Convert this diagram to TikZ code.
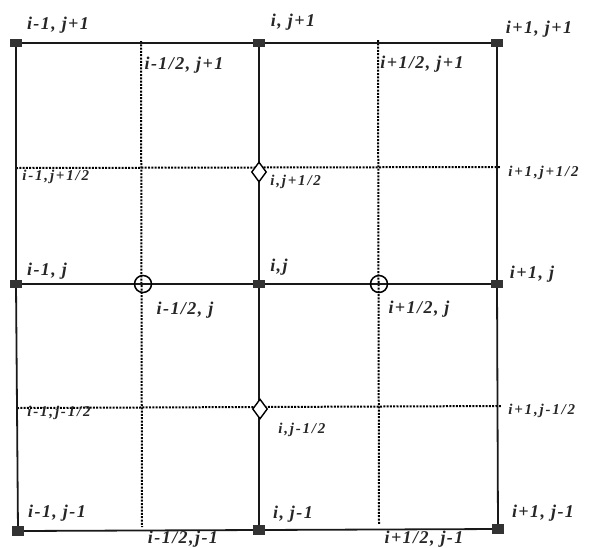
\documentclass[tikz,border=0pt]{standalone}
\usepackage{fontspec}
\setmainfont{Liberation Serif}
\newfontfamily\lblfont[LetterSpace=8]{Liberation Serif}
\newfontfamily\smlfont[LetterSpace=12]{Liberation Serif}
\usetikzlibrary{shapes.geometric,backgrounds}

\begin{document}
\begin{tikzpicture}[x=1pt, y=-1pt, thick]
        \tikzset{
            gridpt/.style={draw=none, fill=black!80, rectangle, minimum width=12pt, minimum height=8pt, inner sep=0pt},
            facex/.style={draw, circle, minimum size=17pt, inner sep=0pt, line width=1.5pt},
            facey/.style={draw, fill=white, diamond, minimum width=15pt, minimum height=20pt, inner sep=0pt, line width=1.4pt},
            lbl/.style={font=\lblfont\fontsize{18}{18}\selectfont\bfseries\itshape, text=black!85, inner sep=0pt},
            sml/.style={font=\smlfont\fontsize{15}{15}\selectfont\bfseries\itshape, text=black!85, inner sep=0pt, anchor=west},
            cell/.style={draw, black!90, line width=1.8pt},
            half/.style={draw, black, dash pattern={on 2pt off 1.3pt}, line width=2pt}
        }
        \useasboundingbox (0,0) rectangle (589,547);

        % Cell corners
        \node [gridpt] (p00) at (16,43) {};
        \node [gridpt] (p10) at (259,43) {};
        \node [gridpt] (p20) at (497,43) {};
        \node [gridpt] (p01) at (16,284) {};
        \node [gridpt] (p11) at (259,284) {};
        \node [gridpt] (p21) at (497,284) {};
        \node [gridpt, minimum height=10pt] (p02) at (18,531) {};
        \node [gridpt, minimum height=10pt] (p12) at (259,530) {};
        \node [gridpt, minimum height=10pt] (p22) at (498,529) {};

        % Half-index lines
        \coordinate (xa-top) at (141,41);  \coordinate (xa-bot) at (142,527);
        \coordinate (xb-top) at (378,40);  \coordinate (xb-bot) at (379,524);
        \coordinate (ya-lft) at (16,168);  \coordinate (ya-rgt) at (500,167);
        \coordinate (yb-lft) at (17,408);  \coordinate (yb-rgt) at (502,406);

        \begin{scope}[on background layer]
            \draw [half] (xa-top) -- (xa-bot);
            \draw [half] (xb-top) -- (xb-bot);
            \draw [half] (ya-lft) -- (ya-rgt);
            \draw [half] (yb-lft) -- (yb-rgt);
            % Cell edges
            \draw [cell] (p00.center) -- (p10.center) -- (p20.center) -- (p21.center) -- (p22.center) -- (p12.center) -- (p02.center) -- (p01.center) -- cycle;
            \draw [cell] (p01.center) -- (p11.center) -- (p21.center);
            \draw [cell] (p10.center) -- (p11.center) -- (p12.center);
        \end{scope}

        % Face points
        \node [facex] (fw) at (143,284) {};
        \node [facex] (fe) at (379,284) {};
        \node [facey] (fn) at (259,172) {};
        \node [facey] (fs) at (260,409) {};

        % Corner labels
        \node [lbl] (l00) at (58,25) {i-1, j+1};
        \node [lbl] (l10) at (293,22) {i, j+1};
        \node [lbl] (l20) at (539,29) {i+1, j+1};
        \node [lbl] (l01) at (47,271) {i-1, j};
        \node [lbl] (l11) at (279,267) {i,j};
        \node [lbl] (l21) at (532,274) {i+1, j};
        \node [lbl] (l02) at (57,513) {i-1, j-1};
        \node [lbl] (l12) at (293,514) {i, j-1};
        \node [lbl] (l22) at (543,513) {i+1, j-1};

        % Face labels
        \node [lbl] (la0) at (184,65) {i-1/2, j+1};
        \node [lbl] (lb0) at (422,64) {i+1/2, j+1};
        \node [lbl] (la1) at (185,310) {i-1/2, j};
        \node [lbl] (lb1) at (419,309) {i+1/2, j};
        \node [lbl] (la2) at (183,539) {i-1/2,j-1};
        \node [lbl] (lb2) at (424,539) {i+1/2, j-1};
        \node [sml] (s0a) at (22,177) {i-1,j+1/2};
        \node [sml] (s1a) at (270,182) {i,j+1/2};
        \node [sml] (s2a) at (508,173) {i+1,j+1/2};
        \node [sml] (s0b) at (27,413) {i-1,j-1/2};
        \node [sml] (s1b) at (278,430) {i,j-1/2};
        \node [sml] (s2b) at (508,411) {i+1,j-1/2};
\end{tikzpicture}
\end{document}
